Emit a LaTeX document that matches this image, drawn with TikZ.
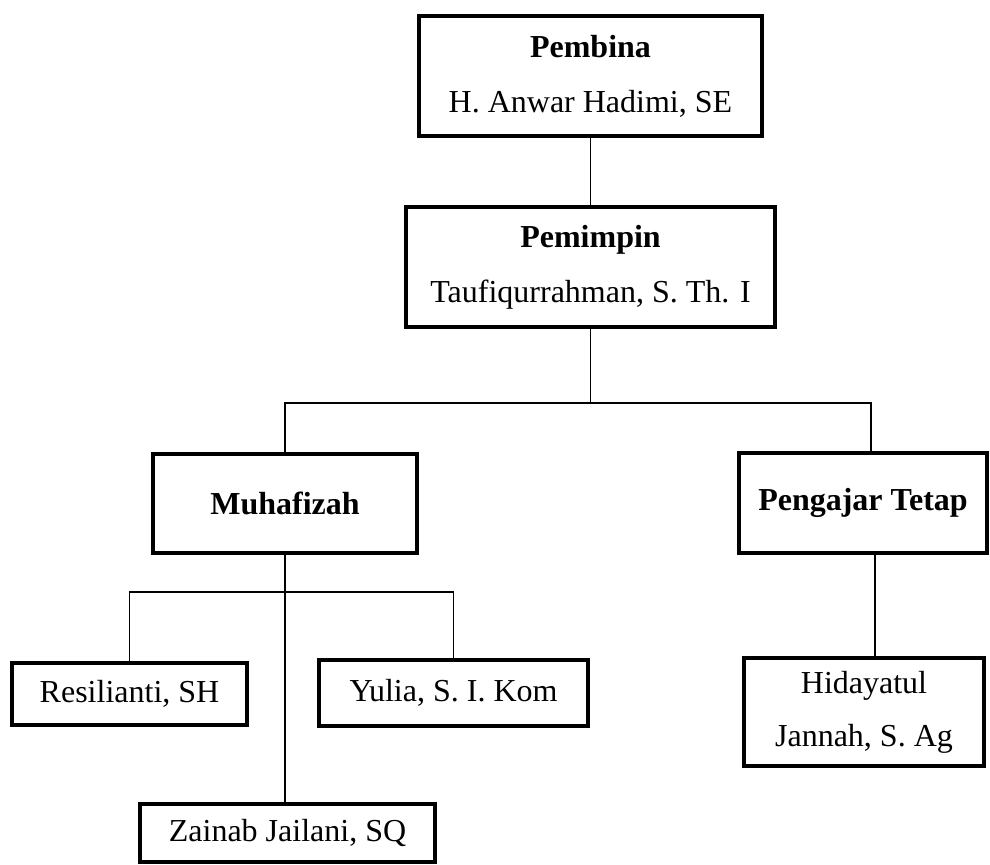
\documentclass[tikz,border=0pt]{standalone}
\usepackage{fontspec}
\setmainfont{Liberation Serif}
\tikzset{
  kotak/.style={draw, line width=2pt, inner sep=0pt, outer sep=0pt, align=center},
  garis/.style={line width=0.7pt}
}
\begin{document}
\begin{tikzpicture}[x=0.5pt,y=-0.5pt,font=\fontsize{16pt}{27.5pt}\selectfont]
        \useasboundingbox (0,0) rectangle (990,865);
        %pembina dan pemimpin
        \node[kotak,minimum width=171.5pt,minimum height=60pt] (pembina) at (590.5,76) {\textbf{Pembina}\\H. Anwar Hadimi, SE};
        \node[kotak,minimum width=184.5pt,minimum height=60pt] (pemimpin) at (590.5,267) {\textbf{Pemimpin}\\Taufiqurrahman, S. Th. I};
        %bagian
        \node[kotak,minimum width=132pt,minimum height=49.5pt] (muhafizah) at (285,503.5) {\textbf{Muhafizah}};
        \node[kotak,minimum width=124pt,minimum height=50pt] (pengajar) at (863,503) {\textbf{Pengajar Tetap}};
        %anggota
        \node[kotak,minimum width=117.5pt,minimum height=31pt] (resilianti) at (129.5,694) {Resilianti, SH};
        \node[kotak,minimum width=134.5pt,minimum height=33pt] (yulia) at (453.5,693) {Yulia, S. I. Kom};
        \node[kotak,minimum width=147.5pt,minimum height=29pt] (zainab) at (287.5,833) {Zainab Jailani, SQ};
        \node[kotak,minimum width=120pt,minimum height=54pt,font=\fontsize{16pt}{26.5pt}\selectfont] (hidayatul) at (864,712) {Hidayatul\\Jannah, S. Ag};
        %garis
        \coordinate (cabang1) at (588,403);
        \coordinate (cabang2) at (285,592);
        \draw[garis] (pembina.south) -- (pemimpin.north);
        \draw[garis] (pemimpin.south) -- (pemimpin.south |- cabang1);
        \draw[garis] (muhafizah.north) |- (cabang1) -| ([xshift=4pt]pengajar.north);
        \draw[garis] (muhafizah.south) -- (muhafizah.south |- zainab.north);
        \draw[garis] (resilianti.north) |- (cabang2) -| (yulia.north);
        \draw[garis] ([xshift=6pt]pengajar.south) -- ([xshift=6pt]pengajar.south |- hidayatul.north);
\end{tikzpicture}
\end{document}
